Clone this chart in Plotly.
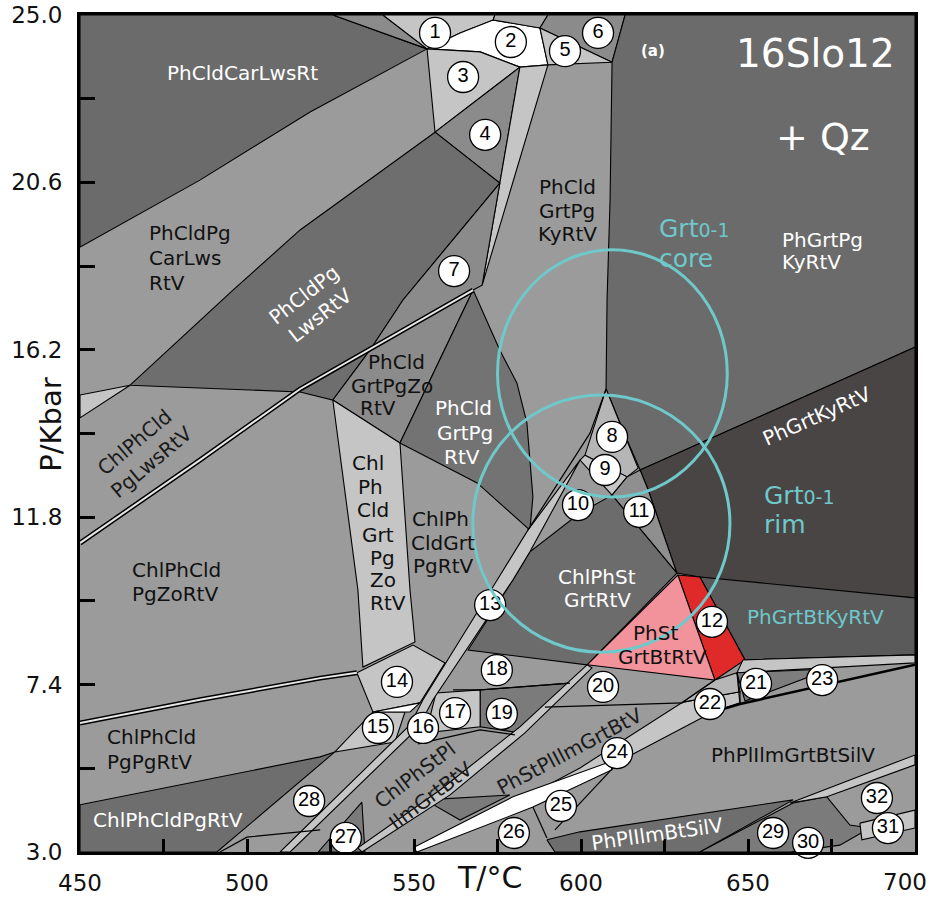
import plotly.graph_objects as go

# ---------------- field polygons (T in degC, P in kbar) ----------------
PhCldCarLwsRt_T = [450, 525.7, 553.9, 518.9, 485.9, 450]
PhCldCarLwsRt_P = [25.0, 25.0, 24.11, 22.45, 20.66, 18.90]
TopA_T = [525.7, 540.7, 553.9]
TopA_P = [25.0, 25.0, 24.11]
F1_T = [540.7, 574.2, 573.7, 563.8, 553.9]
F1_P = [25.0, 25.0, 24.87, 24.53, 24.11]
F2_T = [553.9, 563.8, 573.7, 587.7, 590.1, 581.7, 569.8]
F2_P = [24.11, 24.53, 24.87, 24.66, 23.69, 23.63, 24.03]
TopB_T = [574.2, 590.1, 587.7, 573.7]
TopB_P = [25.0, 25.0, 24.66, 24.87]
F6_T = [590.1, 613.2, 609.3, 587.7]
F6_P = [25.0, 25.0, 23.76, 24.66]
F5_T = [587.7, 609.3, 590.1]
F5_P = [24.66, 23.76, 23.69]
F3_T = [553.9, 569.8, 581.7, 556.3]
F3_P = [24.11, 24.03, 23.63, 21.92]
F4_T = [556.3, 581.7, 575.7]
F4_P = [21.92, 23.63, 20.58]
StripTop_T = [581.7, 590.1, 570.4, 575.7]
StripTop_P = [23.63, 23.69, 17.90, 20.58]
PhCldPgLwsRtV_T = [465.0, 495.8, 515.9, 556.3, 575.7, 546.7, 536.8, 525.7, 515.9]
PhCldPgLwsRtV_P = [15.27, 17.77, 19.35, 21.92, 20.58, 17.51, 16.19, 14.88, 15.09]
Wedge_T = [450, 465.0, 450]
Wedge_P = [15.01, 15.27, 14.41]
F7_T = [575.7, 570.4, 567.7, 536.8, 546.7]
F7_P = [20.58, 17.90, 17.77, 16.19, 17.51]
PhCldGrtPgZoRtV_T = [525.7, 536.8, 567.7, 545.8]
PhCldGrtPgZoRtV_P = [14.88, 16.19, 17.77, 13.75]
ChlPhCldGrtPgZoRtV_T = [525.7, 545.8, 548.8, 550.3, 534.7, 533.2]
ChlPhCldGrtPgZoRtV_P = [14.88, 13.75, 9.89, 8.52, 7.86, 9.89]
PhCldGrtPgRtV_T = [567.7, 575.7, 580.8, 583.8, 585.6, 584.7, 568.9, 545.8]
PhCldGrtPgRtV_P = [17.77, 16.19, 15.33, 14.28, 12.33, 11.46, 12.70, 13.75]
PhGrtPgKyRtV_T = [609.3, 613.2, 700, 700, 644.6, 617.7, 613.8, 607.5, 607.8, 608.7]
PhGrtPgKyRtV_P = [23.76, 25.0, 25.0, 16.27, 14.09, 13.04, 13.83, 15.17, 17.51, 20.14]
PhGrtKyRtV_T = [617.7, 644.6, 700, 700, 665.6, 635.6, 628.7, 620.1]
PhGrtKyRtV_P = [13.04, 14.09, 16.27, 9.68, 9.89, 10.23, 10.33, 12.52]
PhGrtBtKyRtV_T = [635.6, 700, 700, 649.1]
PhGrtBtKyRtV_P = [10.23, 9.68, 8.18, 8.05]
F12_T = [629.0, 635.6, 649.1, 640.1]
F12_P = [10.28, 10.23, 8.05, 7.52]
PhStGrtBtRtV_T = [601.8, 629.0, 640.1]
PhStGrtBtRtV_P = [7.92, 10.28, 7.52]
F8_T = [607.5, 613.8, 617.1, 613.8, 601.2]
F8_P = [15.17, 13.83, 13.09, 12.86, 13.43]
F9_T = [601.2, 613.8, 609.3, 599.7]
F9_P = [13.43, 12.86, 12.38, 13.30]
F11_T = [609.3, 613.8, 617.7, 620.1, 628.7]
F11_P = [12.38, 12.86, 13.04, 12.52, 10.33]
ChlPhStGrtRtV_T = [609.3, 628.7, 601.8, 566.2, 579.6, 584.7, 599.7]
ChlPhStGrtRtV_P = [12.38, 10.33, 7.92, 8.31, 10.15, 10.89, 11.91]
F19_T = [569.8, 596.7, 580.2, 569.8]
F19_P = [7.26, 7.44, 6.15, 6.29]
F17_T = [556.6, 569.8, 569.8, 553.6]
F17_P = [7.18, 7.26, 6.29, 6.13]
F14_T = [532.9, 549.7, 559.3, 551.8, 537.7]
F14_P = [7.71, 8.44, 7.97, 6.92, 6.68]
F15_T = [526.3, 537.7, 547.3, 544.3]
F15_P = [5.63, 6.68, 6.68, 5.89]
Sliver_T = [537.7, 551.8, 548.8]
Sliver_P = [6.68, 6.92, 6.68]
Strip1_T = [599.7, 584.1, 574.9, 552.7, 548.8, 509.9, 512.9, 551.2, 555.7, 579.6, 584.7]
Strip1_P = [13.30, 11.46, 10.15, 7.00, 6.34, 3.0, 3.0, 6.26, 7.00, 10.15, 10.89]
ChlPhCldPgRtV_T = [450, 485.9, 521.9, 526.3, 491.0, 450]
ChlPhCldPgRtV_P = [4.24, 4.87, 5.50, 5.63, 3.0, 3.0]
F27_T = [521.3, 534.4, 535.3]
F27_P = [3.0, 4.31, 3.0]
Strip2_T = [601.8, 581.7, 557.8, 533.2, 534.4, 560.8, 583.2, 603.3]
Strip2_P = [7.92, 6.29, 4.63, 3.11, 3.0, 4.50, 6.13, 7.84]
F26dark_T = [553.3, 578.7, 563.8]
F26dark_P = [4.37, 4.50, 3.84]
Strip24_T = [581.7, 599.7, 630.5, 647.6, 647.6, 639.5, 599.7, 583.2]
Strip24_P = [4.37, 5.21, 6.94, 7.21, 6.92, 6.68, 4.84, 4.24]
F22_T = [630.5, 640.1, 646.7, 647.6]
F22_P = [6.94, 7.52, 7.71, 7.21]
F25white_T = [549.7, 579.6, 608.7, 609.3, 585.6, 550.9]
F25white_P = [3.11, 4.45, 5.37, 5.16, 4.18, 3.0]
F23strip_T = [648.5, 700, 700, 646.7]
F23strip_P = [8.05, 8.18, 7.97, 7.71]
F21_T = [646.7, 674.5, 649.1]
F21_P = [7.71, 7.81, 6.97]
PhPlIlmBtSilV_T = [589.8, 599.7, 663.5, 635.6, 592.2]
PhPlIlmBtSilV_P = [3.32, 3.53, 4.37, 3.0, 3.0]
F29_T = [635.6, 663.5, 673.6, 680.5, 686.5, 677.5, 662.6]
F29_P = [3.0, 4.29, 4.45, 3.71, 3.63, 3.18, 3.0]
F32strip_T = [662.6, 700, 700, 673.6]
F32strip_P = [4.29, 5.55, 5.29, 4.45]
F31strip_T = [683.5, 700, 700, 684.1]
F31strip_P = [3.76, 4.10, 3.63, 3.32]

# ---------------- extra boundary lines ----------------
DoubleLine1_T = [450, 485.9, 515.9, 536.8, 567.7]
DoubleLine1_P = [11.12, 13.30, 15.17, 16.22, 17.77]
DoubleLine2_T = [450, 485.9, 521.9, 532.9]
DoubleLine2_P = [6.39, 7.00, 7.57, 7.71]
LineApex_T = [607.5, 602.7, 584.1]
LineApex_P = [15.17, 14.01, 11.46]
Line18_T = [561.7, 569.8, 596.7]
Line18_P = [7.26, 7.26, 7.44]
LineStPl_T = [551.2, 569.8, 580.2]
LineStPl_P = [5.84, 6.21, 6.08]
Line20_T = [589.2, 630.5]
Line20_P = [6.81, 6.92]
Line22_T = [640.1, 630.5]
Line22_P = [7.52, 6.94]
Line21_T = [646.7, 647.6]
Line21_P = [7.71, 6.89]
LineX1_T = [609.6, 599.7, 592.2]
LineX1_P = [5.21, 4.29, 3.58]
LineX2_T = [585.6, 589.8]
LineX2_P = [4.18, 3.37]
LineBL_T = [491.9, 500.0, 521.9]
LineBL_P = [3.0, 3.39, 3.58]
ThickLine_T = [639.5, 647.6, 700]
ThickLine_P = [6.68, 6.89, 7.92]

# ---------------- Grt0-1 isopleth ellipses ----------------
CORE_CENTER = (609.4, 15.58)
CORE_RADII = (34.4, 3.25)
RIM_CENTER = (606.1, 11.63)
RIM_RADII = (38.5, 3.38)

# ---------------- numbered small fields ----------------
NUM_LABELS = [str(i) for i in range(1, 33)]
NUM_T = [556.3, 579.0, 564.7, 571.3, 595.2, 605.1, 562.0, 609.3, 607.2, 599.1,
         617.4, 639.2, 572.8, 544.9, 539.2, 552.7, 562.3, 574.8, 576.3, 606.6,
         652.4, 638.6, 672.2, 610.8, 594.0, 579.9, 529.6, 518.6, 657.5, 668.0,
         691.9, 688.6]
NUM_P = [24.53, 24.29, 23.37, 21.85, 24.05, 24.53, 18.27, 13.91, 13.04, 12.12,
         11.94, 9.05, 9.49, 7.47, 6.26, 6.26, 6.65, 7.78, 6.63, 7.34,
         7.42, 6.89, 7.52, 5.60, 4.21, 3.50, 3.37, 4.34, 3.50, 3.24,
         3.63, 4.42]

# ---------------- axes ----------------
X_TICKS = [450, 475, 500, 525, 550, 575, 600, 625, 650, 675, 700]
X_TICKTEXT = ["450", "", "500", "", "550", "", "600", "", "650", "", ""]
X_LAST_LABEL = "700"
Y_TICKS = [3.0, 5.2, 7.4, 9.6, 11.8, 14.0, 16.2, 18.4, 20.6, 22.8, 25.0]
Y_TICKTEXT = ["3.0", "", "7.4", "", "11.8", "", "16.2", "", "20.6", "", "25.0"]

# ---------------- styles ----------------
BG = "#9b9b9b"
DARK = "#6b6b6b"
MD = "#8b8b8b"
LIGHT = "#c5c5c5"
LIGHT2 = "#b6b6b6"
VDARK = "#494545"
DARK2 = "#5a5a5a"
DARK3 = "#7b7b7b"
PINK = "#f2939b"
RED = "#e02a2a"
CYAN = "#6fc8ca"
WHITE = "#ffffff"
FONT = "DejaVu Sans"

fields = [
    (PhCldCarLwsRt_T, PhCldCarLwsRt_P, DARK),
    (TopA_T, TopA_P, MD),
    (F1_T, F1_P, LIGHT),
    (F2_T, F2_P, WHITE),
    (TopB_T, TopB_P, "#aaaaaa"),
    (F6_T, F6_P, MD),
    (F5_T, F5_P, LIGHT),
    (F3_T, F3_P, LIGHT),
    (F4_T, F4_P, MD),
    (StripTop_T, StripTop_P, LIGHT),
    (PhCldPgLwsRtV_T, PhCldPgLwsRtV_P, "#6e6e6e"),
    (Wedge_T, Wedge_P, LIGHT),
    (F7_T, F7_P, MD),
    (PhCldGrtPgZoRtV_T, PhCldGrtPgZoRtV_P, MD),
    (ChlPhCldGrtPgZoRtV_T, ChlPhCldGrtPgZoRtV_P, LIGHT),
    (PhCldGrtPgRtV_T, PhCldGrtPgRtV_P, "#737373"),
    (PhGrtPgKyRtV_T, PhGrtPgKyRtV_P, DARK),
    (PhGrtKyRtV_T, PhGrtKyRtV_P, VDARK),
    (PhGrtBtKyRtV_T, PhGrtBtKyRtV_P, DARK2),
    (F12_T, F12_P, RED),
    (PhStGrtBtRtV_T, PhStGrtBtRtV_P, PINK),
    (F8_T, F8_P, LIGHT2),
    (F9_T, F9_P, LIGHT),
    (F11_T, F11_P, "#8f8f8f"),
    (ChlPhStGrtRtV_T, ChlPhStGrtRtV_P, "#6c6c6c"),
    (F19_T, F19_P, DARK3),
    (F17_T, F17_P, LIGHT),
    (F14_T, F14_P, LIGHT),
    (F15_T, F15_P, LIGHT),
    (Sliver_T, Sliver_P, WHITE),
    (ChlPhCldPgRtV_T, ChlPhCldPgRtV_P, "#6e6e6e"),
    (F27_T, F27_P, DARK3),
    (F26dark_T, F26dark_P, DARK3),
    (Strip1_T, Strip1_P, LIGHT),
    (Strip2_T, Strip2_P, LIGHT),
    (Strip24_T, Strip24_P, LIGHT),
    (F22_T, F22_P, LIGHT2),
    (F25white_T, F25white_P, WHITE),
    (F23strip_T, F23strip_P, LIGHT),
    (F21_T, F21_P, "#7d7d7d"),
    (PhPlIlmBtSilV_T, PhPlIlmBtSilV_P, "#6e6e6e"),
    (F29_T, F29_P, DARK3),
    (F32strip_T, F32strip_P, LIGHT),
    (F31strip_T, F31strip_P, LIGHT),
]

lines = [
    (LineApex_T, LineApex_P, 1.2),
    (Line18_T, Line18_P, 1.2),
    (LineStPl_T, LineStPl_P, 1.2),
    (Line20_T, Line20_P, 1.2),
    (Line22_T, Line22_P, 1.2),
    (Line21_T, Line21_P, 1.2),
    (LineX1_T, LineX1_P, 1.2),
    (LineX2_T, LineX2_P, 1.2),
    (LineBL_T, LineBL_P, 1.2),
    (ThickLine_T, ThickLine_P, 2.5),
]

fig = go.Figure()

for T, P, col in fields:
    fig.add_trace(go.Scatter(
        x=T + [T[0]], y=P + [P[0]], mode="lines", fill="toself",
        fillcolor=col, line=dict(color="black", width=1.1),
        hoverinfo="skip", showlegend=False))

for T, P, w in lines:
    fig.add_trace(go.Scatter(x=T, y=P, mode="lines",
                             line=dict(color="black", width=w),
                             hoverinfo="skip", showlegend=False))

for T, P in [(DoubleLine1_T, DoubleLine1_P), (DoubleLine2_T, DoubleLine2_P)]:
    fig.add_trace(go.Scatter(x=T, y=P, mode="lines",
                             line=dict(color="black", width=5),
                             hoverinfo="skip", showlegend=False))
    fig.add_trace(go.Scatter(x=T, y=P, mode="lines",
                             line=dict(color="#e8e8e8", width=2),
                             hoverinfo="skip", showlegend=False))

# isopleth ellipses
for (cx, cy), (rx, ry) in [(CORE_CENTER, CORE_RADII), (RIM_CENTER, RIM_RADII)]:
    fig.add_shape(type="circle", xref="x", yref="y",
                  x0=cx - rx, x1=cx + rx, y0=cy - ry, y1=cy + ry,
                  line=dict(color=CYAN, width=3), layer="above")

# numbered bubbles
fig.add_trace(go.Scatter(
    x=NUM_T, y=NUM_P, mode="markers+text", text=NUM_LABELS,
    textposition="middle center",
    textfont=dict(family="Liberation Sans, Arial", size=20, color="black"),
    marker=dict(size=31, color="white", line=dict(color="black", width=1.3)),
    cliponaxis=False, hoverinfo="skip", showlegend=False))

# ---------------- field labels ----------------
labels = [
    # text, T, P, color, size, angle, xanchor
    ("PhCldCarLwsRt", 498.8, 23.48, "white", 20, 0, "center"),
    ("PhCldPg", 470.1, 19.27, "#111", 20, 0, "left"),
    ("CarLws", 470.1, 18.61, "#111", 20, 0, "left"),
    ("RtV", 470.1, 17.96, "#111", 20, 0, "left"),
    ("PhCldPg<br>LwsRtV", 519.5, 17.38, "white", 20, -38, "center"),
    ("ChlPhCld<br>PgLwsRtV", 468.9, 13.51, "#1a1a1a", 20, -40, "center"),
    ("PhCld", 544.9, 15.88, "#111", 20, 0, "center"),
    ("GrtPgZo", 543.4, 15.25, "#111", 20, 0, "center"),
    ("RtV", 539.2, 14.67, "#111", 20, 0, "center"),
    ("PhCld", 564.7, 14.67, "white", 20, 0, "center"),
    ("GrtPg", 565.3, 14.01, "white", 20, 0, "center"),
    ("RtV", 564.4, 13.38, "white", 20, 0, "center"),
    ("Chl", 536.2, 13.22, "#111", 20, 0, "center"),
    ("Ph", 537.1, 12.59, "#111", 20, 0, "center"),
    ("Cld", 537.7, 11.99, "#111", 20, 0, "center"),
    ("Grt", 539.2, 11.33, "#111", 20, 0, "center"),
    ("Pg", 540.7, 10.73, "#111", 20, 0, "center"),
    ("Zo", 540.7, 10.15, "#111", 20, 0, "center"),
    ("RtV", 542.2, 9.55, "#111", 20, 0, "center"),
    ("ChlPh", 557.8, 11.75, "#111", 20, 0, "center"),
    ("CldGrt", 558.7, 11.12, "#111", 20, 0, "center"),
    ("PgRtV", 558.7, 10.52, "#111", 20, 0, "center"),
    ("PhCld", 596.1, 20.48, "#111", 20, 0, "center"),
    ("GrtPg", 595.8, 19.85, "#111", 20, 0, "center"),
    ("KyRtV", 596.1, 19.24, "#111", 20, 0, "center"),
    ("PhGrtPg", 659.6, 19.09, "white", 20, 0, "left"),
    ("KyRtV", 659.6, 18.51, "white", 20, 0, "left"),
    ("16Slo12", 670.1, 24.0, "white", 39, 0, "center"),
    ("<b>(a)</b>", 621.6, 24.05, "white", 15, 0, "center"),
    ("+ Qz", 672.5, 21.79, "white", 38, 0, "center"),
    ("Grt<span style='font-size:19px'>0-1</span>", 622.8, 19.38, CYAN, 25, 0, "left"),
    ("core", 622.8, 18.60, CYAN, 25, 0, "left"),
    ("Grt<span style='font-size:19px'>0-1</span>", 654.2, 12.38, CYAN, 25, 0, "left"),
    ("rim", 654.2, 11.60, CYAN, 25, 0, "left"),
    ("PhGrtKyRtV", 670.7, 14.46, "white", 20, -24, "center"),
    ("ChlPhSt", 604.8, 10.23, "white", 20, 0, "center"),
    ("GrtRtV", 604.8, 9.62, "white", 20, 0, "center"),
    ("PhSt", 622.2, 8.76, "#111", 20, 0, "center"),
    ("GrtBtRtV", 624.5, 8.13, "#111", 20, 0, "center"),
    ("PhGrtBtKyRtV", 670.1, 9.18, CYAN, 20, 0, "center"),
    ("ChlPhCld", 465.0, 10.41, "#111", 20, 0, "left"),
    ("PgZoRtV", 465.0, 9.78, "#111", 20, 0, "left"),
    ("ChlPhCld", 457.5, 6.02, "#111", 20, 0, "left"),
    ("PgPgRtV", 457.5, 5.37, "#111", 20, 0, "left"),
    ("ChlPhCldPgRtV", 476.3, 3.84, "white", 20, 0, "center"),
    ("ChlPhStPl<br>IlmGrtBtV", 552.8, 4.75, "#1a1a1a", 20, -37, "center"),
    ("PhStPlIlmGrtBtV", 596.7, 5.65, "#1a1a1a", 20, -28, "center"),
    ("PhPlIlmGrtBtSilV", 663.5, 5.55, "#111", 20, 0, "center"),
    ("PhPlIlmBtSilV", 622.8, 3.47, "white", 20, -8, "center"),
]
for text, T, P, col, size, ang, xa in labels:
    fig.add_annotation(x=T, y=P, xref="x", yref="y", text=text, showarrow=False,
                       font=dict(family=FONT, size=size, color=col),
                       textangle=ang, xanchor=xa, yanchor="middle")

# last x tick label, kept inside the page
fig.add_annotation(x=1.0, y=-0.036, xref="paper", yref="paper", text=X_LAST_LABEL,
                   showarrow=False, font=dict(family=FONT, size=23, color="#111"),
                   xanchor="right", xshift=14, yanchor="middle")

# axis titles
fig.add_annotation(x=0.491, y=-0.031, xref="paper", yref="paper", text="T/°C",
                   showarrow=False, font=dict(family=FONT, size=30, color="#111"),
                   xanchor="center", yanchor="middle")
fig.add_annotation(x=-0.034, y=0.51, xref="paper", yref="paper", text="P/Kbar",
                   showarrow=False, font=dict(family=FONT, size=29, color="#111"),
                   textangle=-90, xanchor="center", yanchor="middle")

fig.update_layout(
    width=932, height=898,
    margin=dict(l=80, r=17, t=15, b=46, autoexpand=False),
    paper_bgcolor="white", plot_bgcolor=BG,
    xaxis=dict(range=[450, 700], tickvals=X_TICKS, ticktext=X_TICKTEXT,
               ticks="inside", ticklen=13, tickwidth=3, tickcolor="black",
               showline=True, linewidth=3, linecolor="black", mirror=True,
               showgrid=False, zeroline=False, ticklabelstandoff=8,
               automargin=False, ticklabeloverflow="allow",
               tickfont=dict(family=FONT, size=23, color="#111")),
    yaxis=dict(range=[3.0, 25.0], tickvals=Y_TICKS, ticktext=Y_TICKTEXT,
               ticks="inside", ticklen=15, tickwidth=3, tickcolor="black",
               showline=True, linewidth=3, linecolor="black", mirror=True,
               showgrid=False, zeroline=False, ticklabelstandoff=10,
               automargin=False, ticklabeloverflow="allow",
               tickfont=dict(family=FONT, size=23, color="#111")),
)

fig.write_html("out.html")
